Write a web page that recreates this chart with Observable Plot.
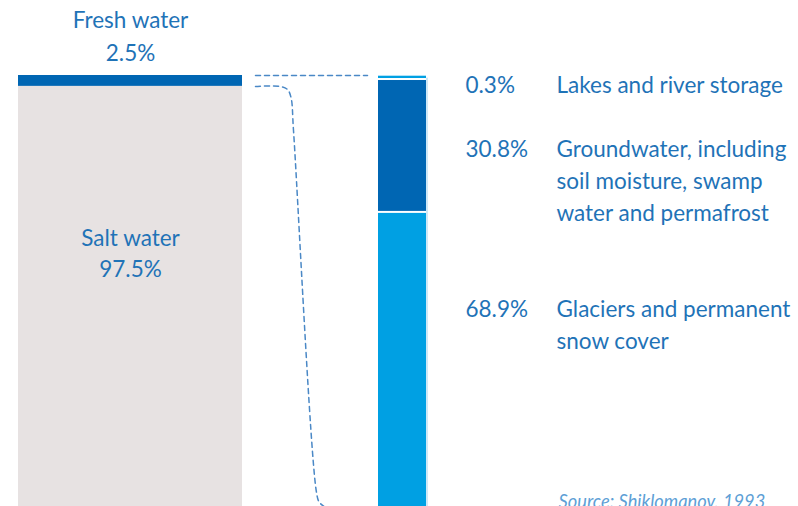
<!DOCTYPE html>
<html>
<head>
<meta charset="utf-8">
<script src="https://cdn.jsdelivr.net/npm/d3@7"></script>
<script src="https://cdn.jsdelivr.net/npm/@observablehq/plot@0.6"></script>
<style>
  html, body { margin: 0; padding: 0; background: #ffffff; overflow: hidden; }
  #chart svg { display: block; }
</style>
</head>
<body>
<div id="chart"></div>
<script>
// ---- data ----
const totalCategories = ["Fresh water", "Salt water"];
const totalShares = [2.5, 97.5];
const totalLabels = ["2.5%", "97.5%"];

const freshCategories = [
  "Lakes and river storage",
  "Groundwater, including\nsoil moisture, swamp\nwater and permafrost",
  "Glaciers and permanent\nsnow cover"
];
const freshShares = [0.3, 30.8, 68.9];
const freshLabels = ["0.3%", "30.8%", "68.9%"];

const sourceText = "Source: Shiklomanov, 1993";

// ---- layout (pixels) ----
const W = 798, H = 506;
const yRange = [75, 512];
const leftBar = {x1: 18, x2: 242};
const rightBar = {x1: 378, x2: 426};
const pctX = 465, descX = 556;
const fontFamily = "Lato, 'Open Sans', sans-serif";
const fs = 22.5;
const textColor = "#1f73b7";
const colors = {
  "Fresh water": "#0066b3",
  "Salt water": "#e7e2e2",
  "Lakes and river storage": "#00a0e3",
  [freshCategories[1]]: "#0066b3",
  [freshCategories[2]]: "#00a0e3"
};
const yInv = d3.scaleLinear().domain(yRange).range([0, 100]); // pixel -> share
// y value for a text whose first baseline should sit at baselinePx (Plot: dy = 0.71 * lineHeight em)
const topOf = (baselinePx, lhPx) => yInv(baselinePx - 0.71 * lhPx);

// stacked rows
function stack(cats, vals) {
  let acc = 0;
  return cats.map((c, i) => { const r = {cat: c, y1: acc, y2: acc + vals[i], i}; acc += vals[i]; return r; });
}
const leftRows = stack(totalCategories, totalShares);
const rightRows = stack(freshCategories, freshShares);

// per-segment insets to separate the right-hand segments with thin white gaps
const rightInsetTop = [0.7, 3.7, 2];
const rightInsetBottom = [-1.7, 0, 0];

// label anchor baselines (px)
const topLabelBaselines = [28, 246];
const topLabelLineH = [33, 31];
const rightLabelBaselines = [93, 157, 317];
const rightLineH = 32;

// connectors
const conn1 = [
  {x: 255, y: 0}, {x: 367, y: 0}
];
const fb = totalShares[0];
const conn2 = [
  {x: 255, y: fb},
  {x: 280, y: fb},
  {x: 287, y: yInv(89)},
  {x: 290.5, y: yInv(97)},
  {x: 293, y: yInv(130)},
  {x: 316, y: yInv(492)},
  {x: 319, y: yInv(502)},
  {x: 330, y: yInv(510)}
];

const marks = [];

// left stacked bar
marks.push(Plot.rectY(leftRows, {
  x1: leftBar.x1, x2: leftBar.x2, y1: "y1", y2: "y2",
  fill: d => colors[d.cat]
}));

// right stacked bar
rightRows.forEach((r, i) => {
  marks.push(Plot.rectY([r], {
    x1: rightBar.x1, x2: rightBar.x2, y1: "y1", y2: "y2",
    fill: colors[r.cat],
    insetTop: rightInsetTop[i], insetBottom: rightInsetBottom[i]
  }));
});
// faint light edge at right side of the right bar
marks.push(Plot.ruleX([rightBar.x2 + 0.5], {y1: 0.6, y2: 100, stroke: "#9fd3f0", strokeWidth: 1}));

// connectors
marks.push(Plot.line(conn1, {x: "x", y: "y", stroke: "#4a88c6", strokeWidth: 1.5, strokeDasharray: "5,4"}));
marks.push(Plot.line(conn2, {x: "x", y: "y", stroke: "#4a88c6", strokeWidth: 1.5, strokeDasharray: "5,4", curve: "catmull-rom"}));

// top/left labels
totalCategories.forEach((c, i) => {
  marks.push(Plot.text([c + "\n" + totalLabels[i]], {
    x: (leftBar.x1 + leftBar.x2) / 2,
    y: topOf(topLabelBaselines[i], topLabelLineH[i]),
    text: d => d,
    lineAnchor: "top",
    lineHeight: topLabelLineH[i] / fs,
    fill: textColor, fontSize: fs, fontFamily, textAnchor: "middle"
  }));
});

// right labels
freshCategories.forEach((c, i) => {
  marks.push(Plot.text([freshLabels[i]], {
    x: pctX, y: topOf(rightLabelBaselines[i], rightLineH), text: d => d,
    lineAnchor: "top", lineHeight: rightLineH / fs,
    fill: textColor, fontSize: fs, fontFamily, textAnchor: "start"
  }));
  marks.push(Plot.text([c], {
    x: descX, y: topOf(rightLabelBaselines[i], rightLineH), text: d => d,
    lineAnchor: "top", lineHeight: rightLineH / fs,
    fill: textColor, fontSize: fs, fontFamily, textAnchor: "start"
  }));
});

// source
marks.push(Plot.text([sourceText], {
  x: 558, y: yInv(507 - 0.71 * 18.3), text: d => d, lineAnchor: "top",
  fill: "#5e9fd6", fontSize: 18.3, fontStyle: "italic", fontFamily, textAnchor: "start"
}));

const chart = Plot.plot({
  width: W, height: H,
  marginTop: 0, marginBottom: 0, marginLeft: 0, marginRight: 0,
  x: {type: "linear", domain: [0, W], range: [0, W], axis: null},
  y: {type: "linear", domain: [0, 100], range: yRange, axis: null},
  style: {background: "#ffffff", overflow: "visible"},
  marks
});
document.getElementById("chart").appendChild(chart);
</script>
</body>
</html>
